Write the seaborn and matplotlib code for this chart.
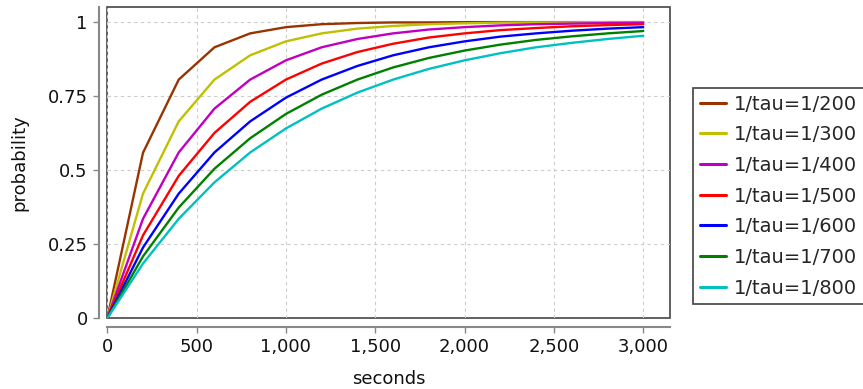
import matplotlib
matplotlib.use("Agg")
import matplotlib.pyplot as plt
import seaborn as sns
import pandas as pd

# Sample times (seconds)
seconds = [0, 200, 400, 600, 800, 1000, 1200, 1400, 1600, 1800,
           2000, 2200, 2400, 2600, 2800, 3000]

# Cumulative probability for each rate
p_200 = [0, 0.559, 0.806, 0.915, 0.962, 0.983, 0.993, 0.997, 0.999, 0.999,
         1.000, 1.000, 1.000, 1.000, 1.000, 1.000]
p_300 = [0, 0.421, 0.665, 0.806, 0.888, 0.935, 0.962, 0.978, 0.987, 0.993,
         0.996, 0.998, 0.999, 0.999, 1.000, 1.000]
p_400 = [0, 0.336, 0.560, 0.708, 0.806, 0.871, 0.915, 0.943, 0.962, 0.975,
         0.983, 0.989, 0.993, 0.995, 0.997, 0.998]
p_500 = [0, 0.280, 0.481, 0.626, 0.731, 0.806, 0.860, 0.899, 0.927, 0.948,
         0.962, 0.973, 0.980, 0.986, 0.990, 0.993]
p_600 = [0, 0.239, 0.421, 0.560, 0.665, 0.745, 0.806, 0.852, 0.888, 0.915,
         0.935, 0.951, 0.962, 0.971, 0.978, 0.983]
p_700 = [0, 0.209, 0.374, 0.505, 0.608, 0.690, 0.755, 0.806, 0.847, 0.879,
         0.904, 0.924, 0.940, 0.952, 0.962, 0.970]
p_800 = [0, 0.185, 0.336, 0.459, 0.560, 0.641, 0.708, 0.762, 0.806, 0.842,
         0.871, 0.895, 0.915, 0.930, 0.943, 0.954]

series_labels = ["1/tau=1/200", "1/tau=1/300", "1/tau=1/400", "1/tau=1/500",
                 "1/tau=1/600", "1/tau=1/700", "1/tau=1/800"]
series_values = [p_200, p_300, p_400, p_500, p_600, p_700, p_800]
colors = ["#993300", "#c0c000", "#c000c0", "#ff0000", "#0000ff", "#008000", "#00c0c0"]

x_ticks = [0, 500, 1000, 1500, 2000, 2500, 3000]
x_tick_labels = ["0", "500", "1,000", "1,500", "2,000", "2,500", "3,000"]
y_ticks = [0, 0.25, 0.5, 0.75, 1]
y_tick_labels = ["0", "0.25", "0.5", "0.75", "1"]

frames = []
for label, vals in zip(series_labels, series_values):
    frames.append(pd.DataFrame({"seconds": seconds, "probability": vals, "series": label}))
df = pd.concat(frames, ignore_index=True)

sns.set_theme(style="white")
plt.rcParams["font.family"] = ["DejaVu Sans"]

fig = plt.figure(figsize=(8.63, 3.89), dpi=100)
ax = fig.add_axes([0.1243, 0.1817, 0.6521, 0.7995])

sns.lineplot(data=df, x="seconds", y="probability", hue="series",
             palette=colors, linewidth=1.7, ax=ax, legend=False)

ax.set_xlim(0, 3150)
ax.set_ylim(0, 1.05)
ax.set_xticks(x_ticks)
ax.set_xticklabels(x_tick_labels)
ax.set_yticks(y_ticks)
ax.set_yticklabels(y_tick_labels)

ax.grid(True, color="#cccccc", linestyle=(0, (3, 3)), linewidth=0.8)

# Plot frame around the data area
ax.patch.set_edgecolor("#444444")
ax.patch.set_linewidth(1.2)

# Detached gray axis lines
for side in ["top", "right"]:
    ax.spines[side].set_visible(False)
for side in ["left", "bottom"]:
    ax.spines[side].set_position(("outward", 6))
    ax.spines[side].set_color("#888888")
    ax.spines[side].set_linewidth(1.5)
ax.tick_params(axis="both", which="both", direction="out", length=4,
               width=1, color="#888888", labelsize=13, labelcolor="#111111",
               bottom=True, left=True, pad=4)

ax.set_xlabel("seconds", fontsize=13, color="#111111", labelpad=10)
ax.set_ylabel("probability", fontsize=13, color="#111111", labelpad=14)

handles = [plt.Line2D([], [], color=c, linewidth=2.2) for c in colors]
leg = fig.legend(handles, series_labels, loc="upper left",
                 bbox_to_anchor=(693 / 863, 1 - 87.7 / 389),
                 borderaxespad=0, fontsize=14, frameon=True, fancybox=False,
                 edgecolor="#111111", borderpad=0.35, handlelength=1.35,
                 handletextpad=0.4, labelspacing=0.6)
leg.get_frame().set_linewidth(1.2)

fig.savefig("out.png", dpi=100)
